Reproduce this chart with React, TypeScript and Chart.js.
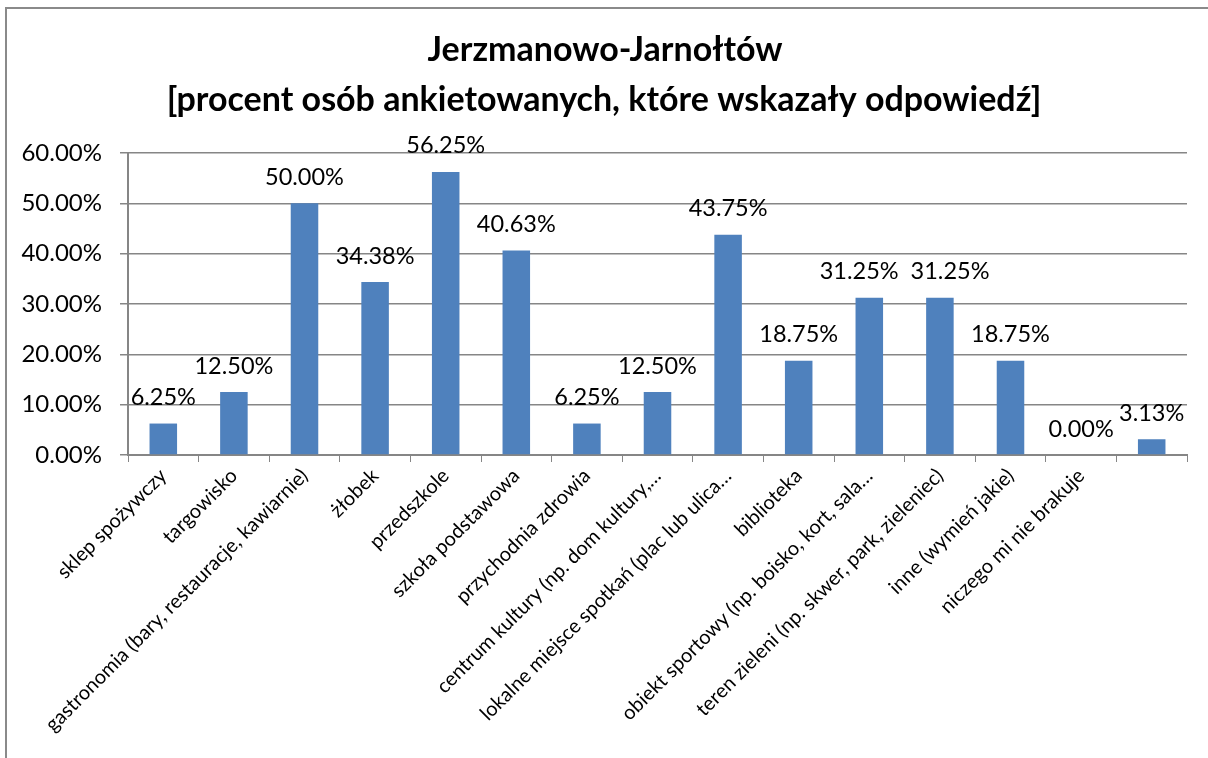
import React, { useEffect, useRef } from "react";
import { Chart, registerables } from "chart.js";

Chart.register(...registerables);

const titleLines = [
  "Jerzmanowo-Jarnołtów",
  "[procent osób ankietowanych, które wskazały odpowiedź]",
];

const categories = [
  "sklep spożywczy",
  "targowisko",
  "gastronomia (bary, restauracje, kawiarnie)",
  "żłobek",
  "przedszkole",
  "szkoła podstawowa",
  "przychodnia zdrowia",
  "centrum kultury (np. dom kultury,…",
  "lokalne miejsce spotkań (plac lub ulica…",
  "biblioteka",
  "obiekt sportowy (np. boisko, kort, sala…",
  "teren zieleni (np. skwer, park, zieleniec)",
  "inne (wymień jakie)",
  "niczego mi nie brakuje",
  "",
];

const values = [
  6.25, 12.5, 50.0, 34.38, 56.25, 40.63, 6.25, 12.5, 43.75, 18.75, 31.25, 31.25,
  18.75, 0.0, 3.13,
];

const yMin = 0;
const yMax = 60;
const yStep = 10;

const FONT = "'Lato', 'Liberation Sans', sans-serif";
const GRID = "#868686";

export default function App() {
  const ref = useRef<HTMLCanvasElement | null>(null);

  useEffect(() => {
    const canvas = ref.current;
    if (!canvas) return;

    const decor = {
      id: "decor",
      beforeDraw(chart: any) {
        const ctx = chart.ctx;
        ctx.save();
        ctx.fillStyle = "#ffffff";
        ctx.fillRect(0, 0, chart.width, chart.height);
        ctx.strokeStyle = "#8a8a8a";
        ctx.lineWidth = 2;
        ctx.beginPath();
        ctx.moveTo(6, chart.height + 5);
        ctx.lineTo(6, 8);
        ctx.lineTo(chart.width + 5, 8);
        ctx.stroke();
        ctx.restore();
      },
      afterDraw(chart: any) {
        const ctx = chart.ctx;
        ctx.save();
        ctx.fillStyle = "#000000";
        ctx.textAlign = "center";
        ctx.textBaseline = "middle";
        ctx.font = `bold 34px ${FONT}`;
        ctx.fillText(titleLines[0], 605, 50);
        ctx.fillText(titleLines[1], 604, 100);
        ctx.restore();
      },
      afterDatasetsDraw(chart: any) {
        const ctx = chart.ctx;
        const meta = chart.getDatasetMeta(0);
        ctx.save();
        ctx.fillStyle = "#000000";
        ctx.textAlign = "center";
        ctx.textBaseline = "middle";
        ctx.font = `23.5px ${FONT}`;
        const labels = meta.data.map((el: any, i: number) => {
          const text = values[i].toFixed(2) + "%";
          return { text, x: el.x, y: el.y - 26, w: ctx.measureText(text).width };
        });
        // push apart neighbouring labels sitting on the same line that collide
        const gap = 12;
        for (let i = 1; i < labels.length; i++) {
          const a = labels[i - 1];
          const b = labels[i];
          if (Math.abs(a.y - b.y) < 6) {
            const need = (a.w + b.w) / 2 + gap - (b.x - a.x);
            if (need > 0) {
              a.x -= need / 2;
              b.x += need / 2;
            }
          }
        }
        labels.forEach((l: any) => ctx.fillText(l.text, l.x, l.y));
        ctx.restore();
      },
    };

    const chart = new Chart(canvas, {
      type: "bar",
      data: {
        labels: categories,
        datasets: [
          {
            data: values,
            backgroundColor: "#4F81BD",
            borderWidth: 0,
            barPercentage: 1,
            categoryPercentage: 0.39,
          },
        ],
      },
      options: {
        animation: false,
        responsive: false,
        devicePixelRatio: 1,
        layout: { padding: { top: 153, right: 21, left: 0, bottom: 0 } },
        plugins: {
          legend: { display: false },
          title: { display: false },
          tooltip: { enabled: false },
        },
        scales: {
          x: {
            afterFit: (s: any) => {
              s.height = 303;
            },
            grid: {
              display: true,
              drawOnChartArea: false,
              offset: true,
              color: GRID,
              tickLength: 7,
              tickColor: GRID,
            },
            border: { display: true, color: GRID, width: 2 },
            ticks: {
              autoSkip: false,
              maxRotation: 45,
              minRotation: 45,
              padding: 2,
              color: "#000000",
              font: { family: FONT, size: 20 },
            },
          },
          y: {
            min: yMin,
            max: yMax,
            afterFit: (s: any) => {
              s.width = 128;
            },
            grid: {
              color: GRID,
              lineWidth: 1.5,
              tickLength: 8,
              tickColor: GRID,
            },
            border: { display: true, color: GRID, width: 2 },
            ticks: {
              stepSize: yStep,
              padding: 18,
              color: "#000000",
              font: { family: FONT, size: 24 },
              callback: (v: any) => Number(v).toFixed(2) + "%",
            },
          },
        },
      },
      plugins: [decor],
    });

    return () => chart.destroy();
  }, []);

  return (
    <div style={{ position: "fixed", left: 0, top: 0, width: 1208, height: 758, background: "#fff" }}>
      <canvas ref={ref} width={1208} height={758} style={{ display: "block" }} />
    </div>
  );
}
